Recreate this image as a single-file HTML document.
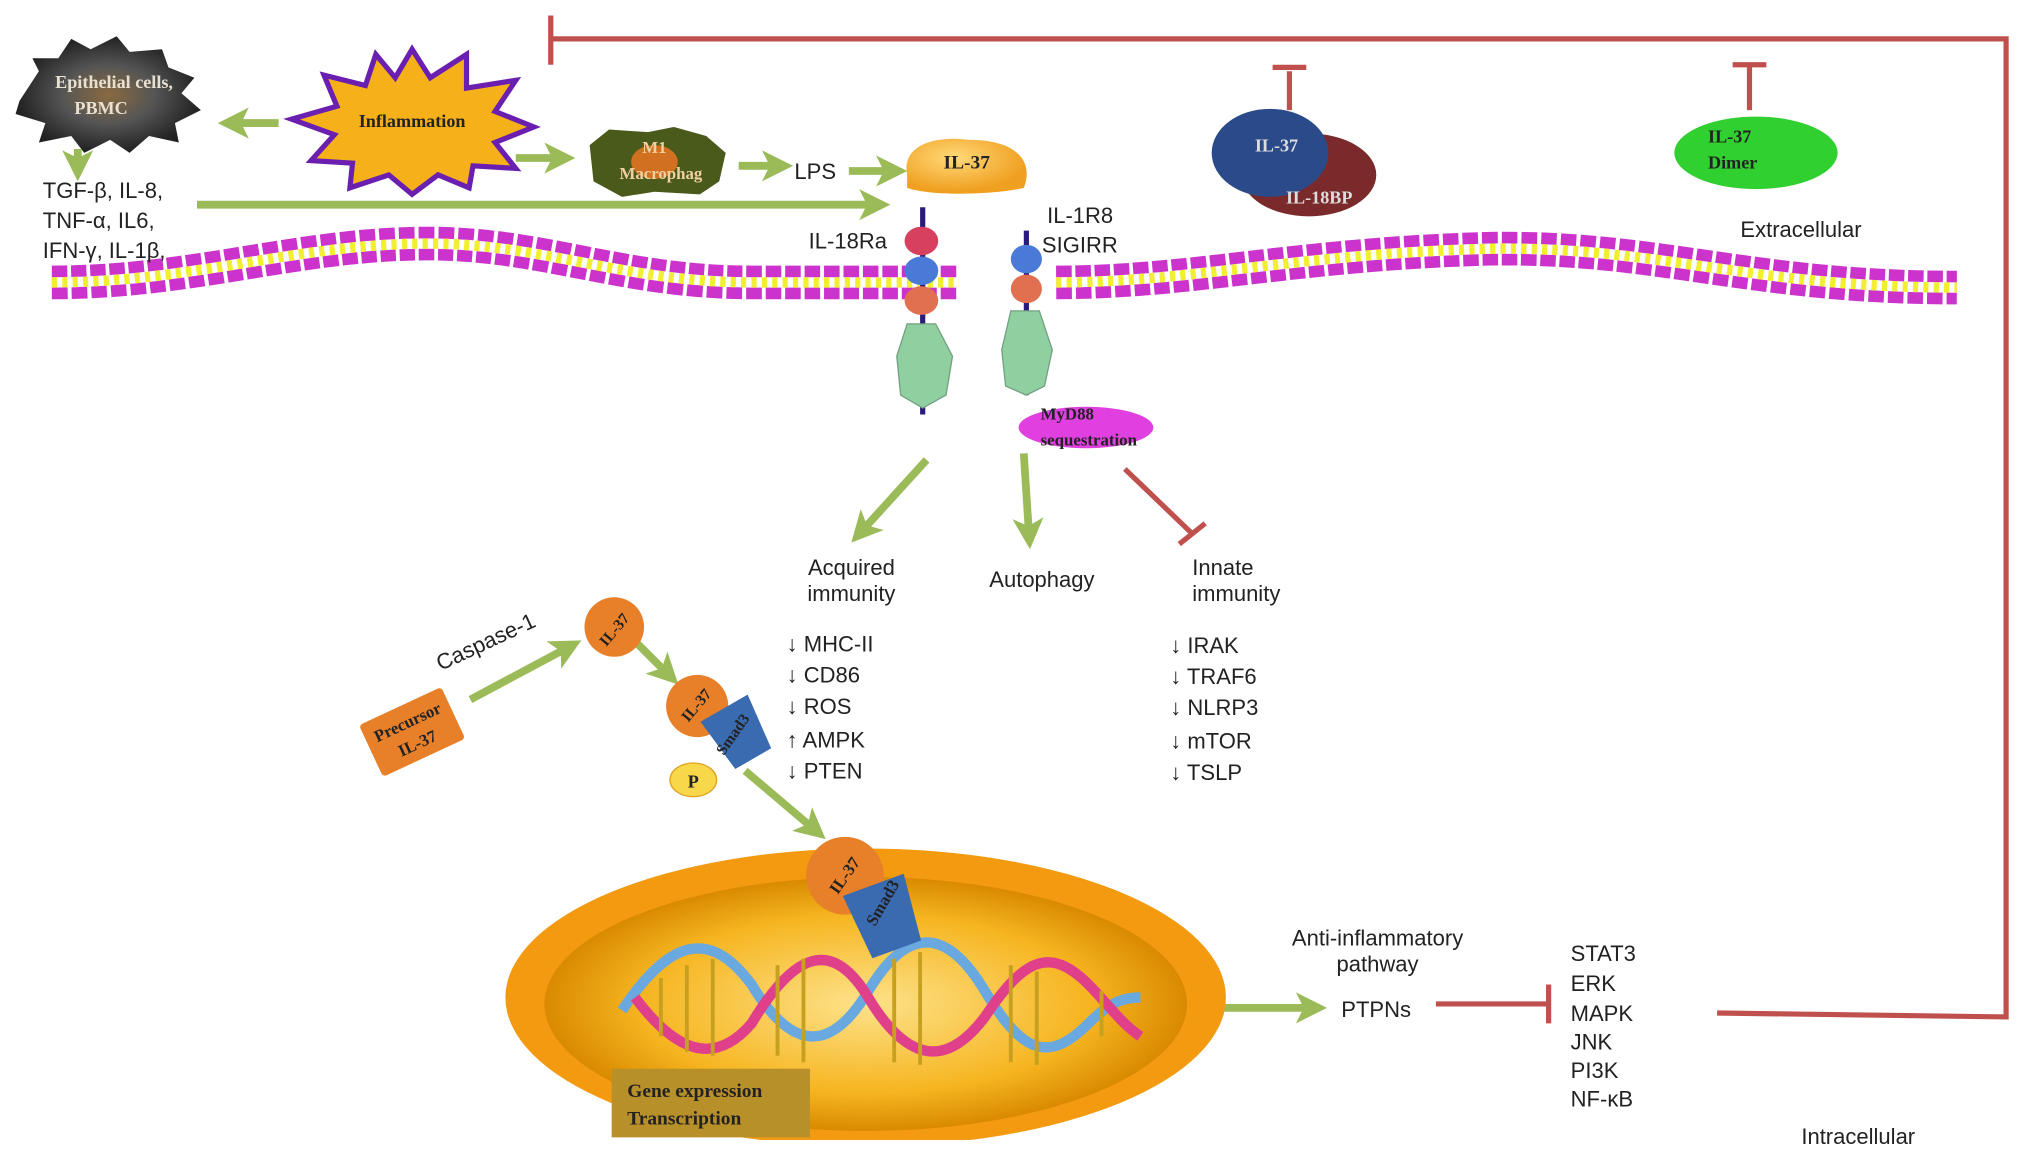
<!DOCTYPE html>
<html><head><meta charset="utf-8"><style>
html,body{margin:0;padding:0;background:#fff;}
svg{display:block;}
text{font-family:"Liberation Sans",sans-serif;}
.s{font-family:"Liberation Serif",serif;font-weight:bold;}
</style></head><body>
<svg width="2032" height="1162" viewBox="0 0 1568 897" preserveAspectRatio="none" xmlns="http://www.w3.org/2000/svg">
<defs>
<marker id="ga" markerWidth="4" markerHeight="4" refX="2" refY="2" orient="auto" markerUnits="strokeWidth"><path d="M0,0 L4,2 L0,4 L1,2z" fill="#9bbb59"/></marker>
<radialGradient id="nuc" cx="50%" cy="50%" r="50%"><stop offset="0" stop-color="#fde28a"/><stop offset="0.7" stop-color="#f6b520"/><stop offset="1" stop-color="#d98a00"/></radialGradient>
<radialGradient id="epi" cx="50%" cy="50%" r="50%"><stop offset="0" stop-color="#8a6a40"/><stop offset="0.5" stop-color="#555"/><stop offset="1" stop-color="#222"/></radialGradient>
<radialGradient id="il" cx="40%" cy="35%" r="60%"><stop offset="0" stop-color="#ffd97a"/><stop offset="1" stop-color="#f0a020"/></radialGradient>
</defs>

<g stroke="#c0504d" stroke-width="4" fill="none">
<path d="M425,12 V50 M425,30 H1548 V785 L1325,782"/>
<path d="M1108,775 H1193 M1195,760 V790"/>
<path d="M995,55 V85 M982,52 H1008"/>
<path d="M1350,50 V85 M1337,50 H1363"/>
<path d="M868,362 L920,412 M910,420 L930,404"/>
</g>

<g fill="none">
<path d="M40,218 C150,218 230,188 330,188 C420,188 480,218 580,218 L740,218 M815,218 C920,218 1000,196 1150,192 C1280,190 1350,222 1510,222" stroke="#cc33cc" stroke-width="26" stroke-dasharray="12 3"/>
<path d="M40,218 C150,218 230,188 330,188 C420,188 480,218 580,218 L740,218 M815,218 C920,218 1000,196 1150,192 C1280,190 1350,222 1510,222" stroke="#fff" stroke-width="8"/>
<path d="M40,218 C150,218 230,188 330,188 C420,188 480,218 580,218 L740,218 M815,218 C920,218 1000,196 1150,192 C1280,190 1350,222 1510,222" stroke="#f2ee30" stroke-width="8" stroke-dasharray="4 4"/>
</g>

<path d="M15,78 L30,55 L25,45 L45,45 L55,30 L70,38 L90,28 L100,40 L125,38 L130,52 L150,60 L140,72 L155,85 L135,95 L138,110 L115,105 L100,118 L85,108 L65,118 L55,105 L30,110 L35,95 L12,88z" fill="url(#epi)"/>
<text x="88" y="68" class="s" font-size="14" fill="#e8e0d0" text-anchor="middle">Epithelial cells,</text>
<text x="78" y="88" class="s" font-size="14" fill="#e8e0d0" text-anchor="middle">PBMC</text>

<polygon points="318,38 332,60 360,42 360,68 398,62 382,86 412,98 382,110 398,130 365,128 362,145 338,135 318,150 300,135 270,145 272,126 240,124 258,104 225,92 260,82 250,58 282,66 290,42 305,60" fill="#f5b01a" stroke="#6a1fb0" stroke-width="4"/>
<text x="318" y="98" class="s" font-size="14" fill="#222" text-anchor="middle">Inflammation</text>

<g stroke="#9bbb59" stroke-width="6" fill="none" marker-end="url(#ga)">
<path d="M215,95 H180"/>
<path d="M60,115 V128"/>
<path d="M398,122 H432"/>
<path d="M570,128 H600"/>
<path d="M655,132 H688"/>
<path d="M152,158 H675"/>
<path d="M715,355 L665,410"/>
<path d="M790,350 L794,412"/>
<path d="M363,540 L438,500"/>
<path d="M490,495 L515,520"/>
<path d="M575,595 L628,640"/>
<path d="M895,778 H1012"/>
</g>

<path d="M455,112 L470,100 L500,102 L520,98 L545,105 L560,118 L555,140 L540,150 L505,148 L480,152 L458,140z" fill="#4a5a1a"/>
<ellipse cx="505" cy="125" rx="18" ry="13" fill="#d07020"/>
<text x="505" y="118" class="s" font-size="13" fill="#f0d0a0" text-anchor="middle">M1</text>
<text x="510" y="138" class="s" font-size="13" fill="#f0d0a0" text-anchor="middle">Macrophag</text>
<text x="613" y="138" font-size="17" fill="#222">LPS</text>

<path d="M700,135 C695,108 730,105 748,108 C785,108 798,125 790,145 C770,150 720,152 700,145z" fill="url(#il)"/>
<text x="746" y="130" class="s" font-size="15" fill="#222" text-anchor="middle">IL-37</text>

<text x="33" y="153" font-size="17" fill="#222">TGF-β, IL-8,</text>
<text x="33" y="176" font-size="17" fill="#222">TNF-α, IL6,</text>
<text x="33" y="199" font-size="17" fill="#222">IFN-γ, IL-1β,</text>

<path d="M712,160 V320 M792,178 V305" stroke="#2a1a7a" stroke-width="4"/>
<ellipse cx="711" cy="186" rx="13" ry="11" fill="#d84060"/>
<ellipse cx="711" cy="209" rx="13" ry="11" fill="#4a7ad8"/>
<ellipse cx="711" cy="232" rx="13" ry="11" fill="#e07050"/>
<path d="M700,250 L722,250 L735,275 L730,305 L712,315 L695,305 L692,275z" fill="#90d0a0" stroke="#70a080"/>
<ellipse cx="792" cy="200" rx="12" ry="11" fill="#4a7ad8"/>
<ellipse cx="792" cy="223" rx="12" ry="11" fill="#e07050"/>
<path d="M780,240 L802,240 L812,270 L806,298 L792,305 L776,298 L773,270z" fill="#90d0a0" stroke="#70a080"/>
<text x="624" y="192" font-size="17" fill="#222">IL-18Ra</text>
<text x="808" y="172" font-size="17" fill="#222">IL-1R8</text>
<text x="804" y="195" font-size="17" fill="#222">SIGIRR</text>

<ellipse cx="838" cy="330" rx="52" ry="16" fill="#e040e0"/>
<text x="803" y="324" class="s" font-size="13" fill="#222">MyD88</text>
<text x="803" y="344" class="s" font-size="13" fill="#222">sequestration</text>

<ellipse cx="1010" cy="135" rx="52" ry="32" fill="#7a2a2a"/>
<ellipse cx="980" cy="118" rx="45" ry="34" fill="#2a4a8a"/>
<text x="985" y="117" class="s" font-size="14" fill="#ddd" text-anchor="middle">IL-37</text>
<text x="1018" y="157" class="s" font-size="14" fill="#ddd" text-anchor="middle">IL-18BP</text>
<ellipse cx="1355" cy="118" rx="63" ry="28" fill="#30d030"/>
<text x="1318" y="110" class="s" font-size="14" fill="#222">IL-37</text>
<text x="1318" y="130" class="s" font-size="14" fill="#222">Dimer</text>
<text x="1343" y="183" font-size="17" fill="#222">Extracellular</text>

<g font-size="17" fill="#222">
<text x="657" y="444" text-anchor="middle">Acquired</text>
<text x="657" y="464" text-anchor="middle">immunity</text>
<text x="804" y="453" text-anchor="middle">Autophagy</text>
<text x="920" y="444">Innate</text>
<text x="920" y="464">immunity</text>
<text x="607" y="503">↓ MHC-II</text>
<text x="607" y="527">↓ CD86</text>
<text x="607" y="551">↓ ROS</text>
<text x="607" y="577">↑ AMPK</text>
<text x="607" y="601">↓ PTEN</text>
<text x="903" y="504">↓ IRAK</text>
<text x="903" y="528">↓ TRAF6</text>
<text x="903" y="552">↓ NLRP3</text>
<text x="903" y="578">↓ mTOR</text>
<text x="903" y="602">↓ TSLP</text>
<text x="1063" y="730" text-anchor="middle">Anti-inflammatory</text>
<text x="1063" y="750" text-anchor="middle">pathway</text>
<text x="1035" y="785">PTPNs</text>
<text x="1212" y="742">STAT3</text>
<text x="1212" y="765">ERK</text>
<text x="1212" y="788">MAPK</text>
<text x="1212" y="810">JNK</text>
<text x="1212" y="832">PI3K</text>
<text x="1212" y="854">NF-κB</text>
<text x="1390" y="883">Intracellular</text>
<text x="340" y="518" transform="rotate(-25 340 518)">Caspase-1</text>
</g>

<g transform="rotate(-25 318 565)"><rect x="283" y="543" width="70" height="44" fill="#e8802a" rx="3"/>
<text x="318" y="561" class="s" font-size="13" fill="#222" text-anchor="middle">Precursor</text>
<text x="318" y="579" class="s" font-size="13" fill="#222" text-anchor="middle">IL-37</text></g>
<circle cx="474" cy="484" r="23" fill="#e8802a"/>
<text x="474" y="490" class="s" font-size="12" fill="#222" text-anchor="middle" transform="rotate(-50 474 486)">IL-37</text>
<circle cx="538" cy="545" r="24" fill="#e8802a"/>
<g transform="rotate(-30 567 565)"><path d="M548,545 H590 L585,590 H553z" fill="#3a6ab0"/></g>
<text x="538" y="548" class="s" font-size="12" fill="#222" text-anchor="middle" transform="rotate(-50 538 545)">IL-37</text>
<text x="567" y="570" class="s" font-size="12" fill="#222" text-anchor="middle" transform="rotate(-55 567 568)">Smad3</text>
<ellipse cx="535" cy="602" rx="18" ry="13" fill="#f8d848" stroke="#e0a020"/>
<text x="535" y="608" class="s" font-size="14" fill="#222" text-anchor="middle">P</text>

<ellipse cx="668" cy="770" rx="278" ry="115" fill="#f39a10"/>
<ellipse cx="668" cy="775" rx="248" ry="98" fill="url(#nuc)"/>
<rect x="380" y="880" width="580" height="20" fill="#fff"/>
<g fill="none" stroke-width="8">
<path d="M480,780 C520,720 550,720 580,760 C610,810 640,815 670,765 C700,715 730,715 760,765 C790,815 810,820 840,790 C855,775 865,770 880,770" stroke="#6aa8e0"/>
<path d="M490,770 C520,810 550,825 580,790 C610,740 640,720 670,770 C700,820 730,825 760,785 C790,740 810,730 840,760 C855,775 865,790 880,800" stroke="#e0408a"/>
<path d="M510,755 V800 M530,745 V812 M550,740 V815 M600,745 V815 M620,740 V820 M690,740 V820 M710,735 V822 M780,745 V820 M800,750 V822 M850,765 V800" stroke="#c8a020" stroke-width="3"/>
</g>
<circle cx="652" cy="676" r="30" fill="#e8802a"/>
<g transform="rotate(-20 680 700)"><path d="M655,682 H705 L700,735 H660z" fill="#3a6ab0"/></g>
<text x="652" y="680" class="s" font-size="13" fill="#222" text-anchor="middle" transform="rotate(-55 652 676)">IL-37</text>
<text x="683" y="700" class="s" font-size="13" fill="#222" text-anchor="middle" transform="rotate(-60 683 698)">Smad3</text>
<rect x="472" y="825" width="153" height="53" fill="#b8902a"/>
<text x="484" y="847" class="s" font-size="15" fill="#222">Gene expression</text>
<text x="484" y="868" class="s" font-size="15" fill="#222">Transcription</text>
</svg>
</body></html>
